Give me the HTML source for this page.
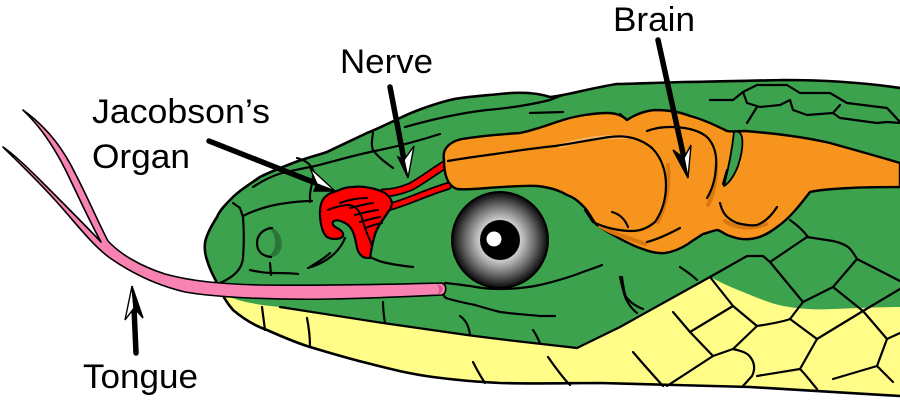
<!DOCTYPE html>
<html>
<head>
<meta charset="utf-8">
<style>
html,body{margin:0;padding:0;background:#fff;}
svg{display:block;}
text{font-family:"Liberation Sans",Arial,sans-serif;font-size:34px;fill:#000;}
</style>
</head>
<body>
<svg width="900" height="409" viewBox="0 0 900 409" xmlns="http://www.w3.org/2000/svg">
<defs>
<radialGradient id="iris" cx="500" cy="240" r="48" gradientUnits="userSpaceOnUse">
<stop offset="0" stop-color="#e0e0e0"/>
<stop offset="0.45" stop-color="#c4c4c4"/>
<stop offset="0.72" stop-color="#6c6c6c"/>
<stop offset="1" stop-color="#080808"/>
</radialGradient>
</defs>
<rect width="900" height="409" fill="#fff"/>

<!-- green head -->
<path d="M900,88 C860,82 820,80 783,80 C740,81 700,82 683,82 C650,83 630,84 617,84 C590,88 565,96 550,97 C535,92 517,92 500,94 C480,96 462,97 450,100 C430,105 410,113 400,118 C385,125 375,130 367,133 C350,141 335,148 327,152 C315,156 303,159 293,163 C280,168 270,172 260,177 C250,184 240,190 233,197 C225,205 220,210 217,217 C210,228 206,236 205,243 C204,252 206,258 208,263 C210,270 214,277 218,285 C222,295 226,302 233,310 C245,320 255,326 267,330 C285,338 297,343 310,347 C330,353 350,359 367,363 C390,369 410,374 433,377 C455,380 480,382 500,383 C540,384 570,383 600,383 C650,384 700,386 750,387 C800,390 850,393 900,396 Z" fill="#3da24e"/>

<!-- yellow belly -->
<path d="M218,290 C230,300 250,304 280,307 C320,313 350,318 383,323 C410,327 440,331 467,335 C490,338 515,341 533,343 L577,348 L620,327 L710,277 C720,282 730,287 743,292 C760,299 770,303 783,306 C800,309 815,310 833,309 C860,308 880,307 900,307 L900,396 C850,393 800,390 750,387 C700,386 650,384 600,383 C570,383 540,384 500,383 C480,382 455,380 433,377 C410,374 390,369 367,363 C350,359 330,353 310,347 C297,343 285,338 267,330 C255,326 245,320 233,310 C228,304 222,297 218,290 Z" fill="#fffc88"/>

<!-- outline -->
<path d="M900,88 C860,82 820,80 783,80 C740,81 700,82 683,82 C650,83 630,84 617,84 C590,88 565,96 550,97 C535,92 517,92 500,94 C480,96 462,97 450,100 C430,105 410,113 400,118 C385,125 375,130 367,133 C350,141 335,148 327,152 C315,156 303,159 293,163 C280,168 270,172 260,177 C250,184 240,190 233,197 C225,205 220,210 217,217 C210,228 206,236 205,243 C204,252 206,258 208,263 C210,270 214,277 218,285 C222,295 226,302 233,310 C245,320 255,326 267,330 C285,338 297,343 310,347 C330,353 350,359 367,363 C390,369 410,374 433,377 C455,380 480,382 500,383 C540,384 570,383 600,383 C650,384 700,386 750,387 C800,390 850,393 900,396" fill="none" stroke="#000" stroke-width="2.6" stroke-linejoin="round"/>

<!-- scale lines -->
<g fill="none" stroke="#000" stroke-width="2.2" stroke-linecap="round" stroke-linejoin="round">
<!-- jaw boundary -->
<path d="M280,307 C320,313 350,318 383,323 C410,327 440,331 467,335 C490,338 515,341 533,343 L577,348 L620,327 L710,277"/>
<!-- top-left head lines -->
<path d="M233,203 L240,208 L243,217 C244,230 244,245 243,258 C242,268 236,276 220,283"/>
<path d="M243,216 C255,210 268,206 280,204 C292,202 302,201 312,201"/>
<path d="M253,187 C262,181 272,176 282,173 C295,170 305,168 315,166 C335,161 355,155 375,151 C395,147 415,142 440,134"/>
<path d="M297,158 C304,160 310,163 313,170 C314,178 311,186 310,194 L310,202"/>
<path d="M373,133 C372,140 371,145 373,150 C378,157 385,162 393,168"/>
<path d="M405,127 C430,120 460,113 487,110 C510,108 530,105 550,100 L563,95"/>
<path d="M530,113 L563,112"/>
<!-- mouth area -->
<path d="M250,270 C258,272 265,273 272,273 C282,273 290,273 298,274"/>
<path d="M270,263 L271,275"/>
<path d="M308,268 C318,265 328,260 335,253 C340,248 343,243 345,238"/>
<path d="M310,267 C318,262 325,258 330,253"/>
<path d="M370,257 C376,260 381,262 387,263 C395,265 405,266 413,267"/>
<path d="M445,283 C455,284 462,285 470,286 C480,288 490,289 500,289 C512,289 523,288 535,286 C550,283 563,279 575,275 C585,271 595,268 602,265"/>
<path d="M442,288 C443,293 443,296 446,298 C455,301 465,303 475,305 C485,308 492,310 500,312 C515,314 530,315 540,316 C545,316 550,316 555,316"/>
<path d="M262,307 C263,315 264,322 265,330"/>
<path d="M307,318 C309,328 310,338 310,347"/>
<path d="M383,302 C383,310 384,317 385,323"/>
<path d="M460,316 C466,320 469,327 470,335"/>
<path d="M533,330 C536,334 538,339 540,343"/>
<path d="M473,362 C477,370 481,377 485,383"/>
<path d="M548,357 C555,367 562,377 570,385"/>
<path d="M620,277 C622,285 623,292 626,299 C629,305 633,310 637,313"/>
<path d="M680,267 C686,271 692,275 697,280"/>
<path d="M790,220 C797,225 803,230 808,237"/>
<!-- right lower scales -->
<path d="M710,277 L747,256 L763,256 L770,262 L807,237 L833,241 C842,243 848,246 851,250 C854,254 856,257 857,259 L900,281"/>
<path d="M622,277 C623,285 624,292 626,297 C631,303 637,307 643,309"/>
<path d="M710,277 L733,306 L757,326"/>
<path d="M770,262 L803,302"/>
<path d="M833,287 L863,311"/>
<path d="M857,259 L833,287 L803,302"/>
<path d="M733,306 L690,332 L673,312"/>
<path d="M690,332 L713,356"/>
<path d="M757,326 C770,324 782,322 790,319 L803,302"/>
<path d="M757,326 L733,349 L713,356"/>
<path d="M713,356 L667,386"/>
<path d="M633,352 C643,364 653,375 663,386"/>
<path d="M733,349 C742,351 748,353 751,358 C755,364 755,370 752,376 L743,386"/>
<path d="M790,319 L817,339 L863,311"/>
<path d="M817,339 L800,369 L757,376"/>
<path d="M800,369 C806,375 811,382 817,389"/>
<path d="M863,311 L887,339 L877,366 L833,379"/>
<path d="M887,339 L900,333"/>
<path d="M877,366 L893,382"/>
<path d="M863,311 L900,289"/>
<!-- top right scales -->
<path d="M710,100 L733,100 L743,92 L757,85 L787,85 L800,93 L830,93 L847,103 L887,108 L900,122"/>
<path d="M743,92 L747,103 L760,107 L780,105 L790,100 L793,110 L807,115 L833,113 L840,105"/>
<path d="M833,113 L840,118 L877,123 L887,122 L900,123"/>
<path d="M757,107 L747,123"/>
</g>

<!-- nostril -->
<path d="M267,226 C279,228 284,240 281,249 C279,255 274,258 268,257 C274,252 276,246 275,240 C274,233 271,229 267,226 Z" fill="#2b743a"/>
<path d="M272,228 C262,229 257,236 257,243 C257,251 262,256 271,257" fill="none" stroke="#000" stroke-width="2.2" stroke-linecap="round"/>

<!-- tongue -->
<path d="M442,283 C400,284 330,286 260,285 C220,284 190,281 165,274 C140,266 120,254 108,241 C98,222 88,198 76,175 C64,150 48,128 23,110 C42,128 56,150 68,175 C80,200 90,222 101,242 C85,225 60,200 40,180 C25,165 12,153 3,147 C18,162 35,178 55,200 C75,222 92,245 110,258 C130,272 155,285 185,292 C220,298 280,300 330,299 C380,298 420,296 442,295 C447,293 447,285 442,283 Z" fill="#f883b3" stroke="#000" stroke-width="1.6" stroke-linejoin="round"/>
<path d="M436,284 C444,285 445,292 437,295 C440,291 440,287 436,284 Z" fill="#cf5d8c"/>

<!-- nerves -->
<g fill="none" stroke-linecap="round" stroke-linejoin="round">
<path d="M383,193 C392,193 400,191 410,187 C420,182 430,174 446,164" stroke="#000" stroke-width="9"/>
<path d="M386,208 C396,205 405,202 415,198 C425,194 435,190 448,186" stroke="#000" stroke-width="8"/>
<path d="M383,193 C392,193 400,191 410,187 C420,182 430,174 446,164" stroke="#fe0000" stroke-width="5.5"/>
<path d="M386,208 C396,205 405,202 415,198 C425,194 435,190 448,186" stroke="#fe0000" stroke-width="4.5"/>
</g>

<!-- Jacobson's organ -->
<path d="M327,237 C322,233 320,222 320,213 C320,205 322,200 325,197 C329,193 333,192 337,191 C343,188 348,187 353,187 C360,186 365,187 370,188 C377,189 381,191 385,193 C389,196 392,200 392,204 C391,208 389,211 388,212 C385,217 382,221 380,224 C377,229 375,233 374,238 C372,245 371,252 370,258 C367,258 365,258 363,257 C360,255 358,252 357,248 C356,242 355,237 353,232 C351,227 348,224 343,222 C339,220 336,220 334,221 C331,223 333,226 337,228 C341,230 344,233 343,236 C342,238 338,239 334,239 C331,239 329,238 327,237 Z" fill="#fe0000" stroke="#000" stroke-width="2.2" stroke-linejoin="round"/>
<g fill="none" stroke="#000" stroke-width="2" stroke-linecap="round">
<path d="M328,210 C335,207 343,205 350,205 C357,207 360,212 362,218 C364,225 366,231 368,236 C370,240 371,243 372,246"/>
<path d="M340,203 C348,200 357,198 367,198"/>
<path d="M350,208 C358,206 365,204 373,203"/>
<path d="M355,215 C362,213 370,211 378,210"/>
<path d="M360,222 C367,220 374,218 380,217"/>
<path d="M365,228 C371,226 376,224 382,223"/>
</g>

<!-- brain -->
<path d="M444,160 C442,150 448,142 462,139 C480,136 505,134 520,133 C535,130 550,124 563,120 C575,116 595,113 607,113 C617,113 623,116 627,120 C633,116 642,111 655,110 C668,110 680,112 690,116 C702,119 715,125 727,131 C732,132 737,131 745,131 C770,133 800,136 830,143 C855,150 880,157 900,163 L900,187 C880,187 860,187 850,188 C830,189 818,190 810,192 C800,205 790,218 777,227 C768,234 760,238 750,239 C740,240 733,237 727,235 C722,232 719,230 717,230 C712,231 707,233 703,234 C697,238 692,241 688,244 C680,249 673,252 665,253 C655,254 645,250 637,247 C628,243 622,240 615,236 C608,232 600,228 595,223 C590,216 588,210 583,206 C577,200 573,197 567,195 C557,189 547,187 537,186 C525,185 505,187 487,188 C475,189 465,190 457,189 C448,186 444,175 444,160 Z" fill="#f7941d" stroke="#000" stroke-width="2.4" stroke-linejoin="round"/>
<!-- brain shading -->
<g fill="none" stroke="#d97710" stroke-width="4" stroke-linecap="round">
<path d="M668,165 C670,185 666,205 658,222"/>
<path d="M716,165 C717,180 713,195 708,205"/>
<path d="M725,221 C735,228 750,230 766,224"/>
<path d="M600,226 C615,235 630,238 645,244"/>
</g>
<path d="M560,146 C580,140 600,136 625,137" fill="none" stroke="#fbb76a" stroke-width="4" stroke-linecap="round"/>
<!-- green crevice -->
<path d="M734,132 C745,128 744,148 738,166 C734,176 729,183 724,186 C728,170 732,150 734,132 Z" fill="#3da24e" stroke="#000" stroke-width="1.8" stroke-linejoin="round"/>
<g fill="none" stroke="#000" stroke-width="2.2" stroke-linecap="round" stroke-linejoin="round">
<path d="M448,161 C465,158 480,156 495,154 C515,151 535,148 555,146 C575,143 595,139 610,137 C625,135 640,138 652,148 C662,158 666,172 666,185 C666,200 662,212 655,222 C648,228 640,231 632,231 C620,231 605,228 593,222 L585,210"/>
<path d="M647,131 C655,128 662,127 670,127 C685,127 700,130 708,138 C715,146 717,157 716,168 C715,180 712,190 707,198"/>
<path d="M612,212 C619,214 625,219 628,227"/>
<path d="M647,242 C655,240 665,236 680,228"/>
<path d="M720,203 C722,211 725,218 737,223 C745,225 752,226 757,225 C765,222 772,215 777,207"/>
<path d="M727,170 L723,184"/>
<path d="M620,114 L627,120"/>
</g>

<!-- eye -->
<circle cx="500" cy="240" r="48" fill="url(#iris)" stroke="#000" stroke-width="2"/>
<circle cx="500" cy="240" r="20" fill="#000"/>
<circle cx="494" cy="239" r="7.5" fill="#fff"/>

<!-- arrows -->
<g stroke="#000" stroke-linecap="round" fill="none">
<line x1="209" y1="141" x2="318" y2="184" stroke-width="5.5"/>
<line x1="390" y1="87" x2="404" y2="160" stroke-width="5.5"/>
<line x1="658" y1="40" x2="684" y2="158" stroke-width="5.5"/>
<line x1="136" y1="353" x2="134" y2="308" stroke-width="5.5"/>
</g>
<g stroke="#000" stroke-width="1.4" stroke-linejoin="miter">
<polygon points="335,191 310,168 317,184" fill="#fff"/>
<polygon points="335,191 317,184 314,191" fill="#000"/>
<polygon points="408,178 414,146 404,160" fill="#fff"/>
<polygon points="408,178 404,160 398,157" fill="#000"/>
<polygon points="688,178 691,145 684,158" fill="#fff"/>
<polygon points="688,178 684,158 673,150" fill="#000"/>
<polygon points="132,286 125,320 134,308" fill="#fff"/>
<polygon points="132,286 134,308 143,318" fill="#000"/>
</g>

<!-- labels -->
<text x="92" y="123" textLength="178" lengthAdjust="spacingAndGlyphs">Jacobson’s</text>
<text x="92" y="168" textLength="98" lengthAdjust="spacingAndGlyphs">Organ</text>
<text x="340" y="73" textLength="93" lengthAdjust="spacingAndGlyphs">Nerve</text>
<text x="613" y="31" textLength="82" lengthAdjust="spacingAndGlyphs">Brain</text>
<text x="83" y="388" textLength="115" lengthAdjust="spacingAndGlyphs">Tongue</text>
</svg>
</body>
</html>
